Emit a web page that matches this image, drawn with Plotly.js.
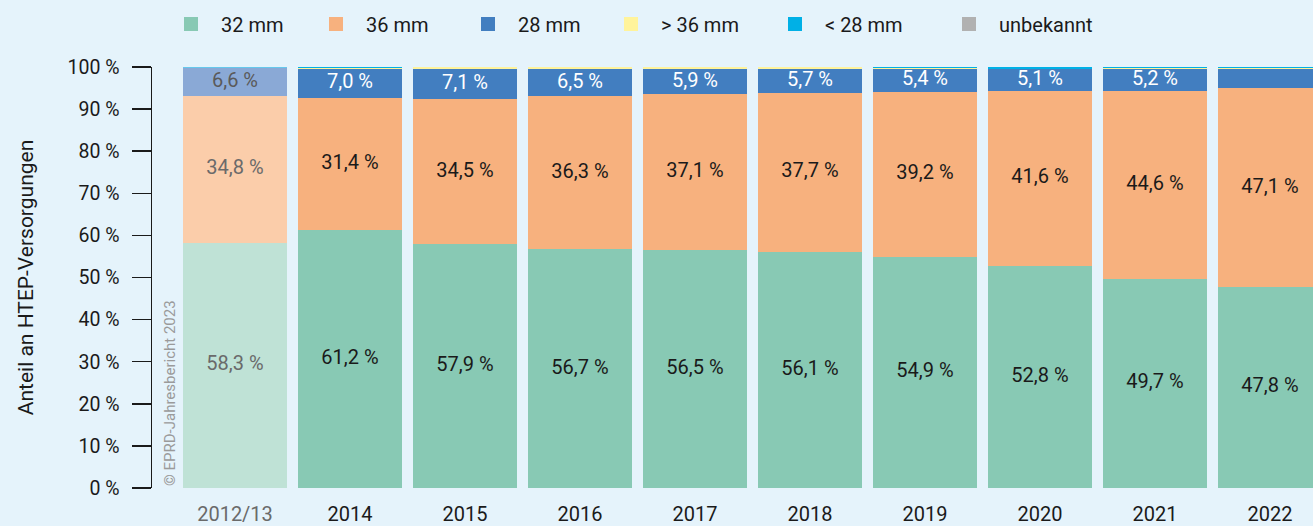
<!DOCTYPE html>
<html>
<head>
<meta charset="utf-8">
<script src="https://cdn.plot.ly/plotly-3.0.1.min.js"></script>
<style>html,body{margin:0;padding:0;background:#e5f3fb;}#chart{width:1313px;height:526px;}</style>
</head>
<body>
<div id="chart"></div>
<script>
// ---- data ----
var categories = ['2012/13','2014','2015','2016','2017','2018','2019','2020','2021','2022'];
var v32   = [58.3, 61.2, 57.9, 56.7, 56.5, 56.1, 54.9, 52.8, 49.7, 47.8];
var v36   = [34.8, 31.4, 34.5, 36.3, 37.1, 37.7, 39.2, 41.6, 44.6, 47.1];
var v28   = [6.6, 7.0, 7.1, 6.5, 5.9, 5.7, 5.4, 5.1, 5.2, 4.7];
var vGt36 = [0.0, 0.2, 0.4, 0.4, 0.4, 0.4, 0.3, 0.0, 0.2, 0.1];
var vLt28 = [0.3, 0.2, 0.1, 0.1, 0.1, 0.1, 0.2, 0.5, 0.3, 0.3];
var vUnk  = [0, 0, 0, 0, 0, 0, 0, 0, 0, 0];
var seriesNames = ['32 mm', '36 mm', '28 mm', '> 36 mm', '< 28 mm', 'unbekannt'];
var labelled28 = [true, true, true, true, true, true, true, true, true, false];

// ---- styles ----
var font = 'Roboto, "DejaVu Sans", sans-serif';
var dark = '#1a1a1a';
var base  = ['#88c9b4', '#f7b17e', '#427ec0', '#fff39b', '#00b0e6', '#b1b1b1'];
var faded = ['#bfe2d6', '#fbcdaa', '#8aa9d6', '#fff8c8', '#66c8ec', '#d0d0d0'];
var series = [v32, v36, v28, vGt36, vLt28, vUnk];

function colArr(i){ return categories.map(function(c, k){ return k === 0 ? faded[i] : base[i]; }); }
function fmt(v){ return v.toFixed(1).replace('.', ',') + ' %'; }

var traces = [];
series.forEach(function(vals, i){
  traces.push({
    type: 'bar', x: categories, y: vals, name: seriesNames[i],
    marker: {color: colArr(i), line: {width: 0}},
    showlegend: false, hoverinfo: 'skip'
  });
});
// legend-only entries
var legendX = [191, 336, 488, 631, 795, 969];
series.forEach(function(vals, i){
  traces.push({
    type: 'bar', x: [categories[0]], y: [null], name: seriesNames[i],
    marker: {color: base[i], line: {width: 2, color: base[i]}},
    legend: i === 0 ? 'legend' : 'legend' + (i + 1),
    showlegend: true, hoverinfo: 'skip'
  });
});

// value labels (centered in segments)
function labelTrace(vals, offsets, colorsFn, show){
  var xs = [], ys = [], ts = [], cs = [];
  categories.forEach(function(c, k){
    if (show && !show[k]) return;
    xs.push(c); ys.push(offsets[k] + vals[k] / 2); ts.push(fmt(vals[k])); cs.push(colorsFn(k));
  });
  return {type: 'scatter', mode: 'text', x: xs, y: ys, text: ts,
    textposition: 'middle center', textfont: {family: font, size: 20, color: cs},
    showlegend: false, hoverinfo: 'skip'};
}
var zeros = categories.map(function(){ return 0; });
var off36 = v32.slice();
var off28 = v32.map(function(v, k){ return v + v36[k]; });
traces.push(labelTrace(v32, zeros, function(k){ return k === 0 ? '#6a6a6a' : dark; }));
traces.push(labelTrace(v36, off36, function(k){ return k === 0 ? '#6a6a6a' : dark; }));
traces.push(labelTrace(v28, off28, function(k){ return k === 0 ? '#5a5a5a' : '#ffffff'; }, labelled28));

var tickText = categories.map(function(c, k){
  return k === 0 ? '<span style="color:#6a6a6a">' + c + '</span>' : c;
});

var layout = {
  width: 1313, height: 526,
  paper_bgcolor: '#e5f3fb', plot_bgcolor: '#e5f3fb',
  margin: {l: 152, r: 0, t: 67, b: 38, pad: 0},
  barmode: 'stack', bargap: 0.0957,
  font: {family: font, size: 20, color: dark},
  xaxis: {
    type: 'category', range: [-0.7217, 9.374],
    tickmode: 'array', tickvals: categories, ticktext: tickText,
    ticks: 'outside', ticklen: 8, tickcolor: 'rgba(0,0,0,0)',
    showline: false, showgrid: false, zeroline: false,
    tickfont: {family: font, size: 20, color: dark}
  },
  yaxis: {
    range: [0, 100], dtick: 10, ticksuffix: ' %',
    ticks: 'outside', ticklen: 19, tickwidth: 1.5, tickcolor: dark,
    ticklabelstandoff: 8,
    showline: true, linewidth: 1.5, linecolor: dark,
    showgrid: false, zeroline: false,
    tickfont: {family: font, size: 19.5, color: dark},
    title: {text: 'Anteil an HTEP-Versorgungen', standoff: 28, font: {family: font, size: 21, color: dark}}
  },
  annotations: [{
    text: '© EPRD-Jahresbericht 2023', textangle: -90,
    xref: 'paper', yref: 'paper', x: (170 - 152) / (1313 - 152), y: 0,
    xanchor: 'center', yanchor: 'bottom', showarrow: false,
    font: {family: font, size: 15, color: '#9a9a9a'}
  }]
};
legendX.forEach(function(px, i){
  var key = i === 0 ? 'legend' : 'legend' + (i + 1);
  layout[key] = {
    xref: 'container', yref: 'container', x: (px - 30) / 1313, y: 1 - 24 / 526,
    xanchor: 'left', yanchor: 'middle', orientation: 'h',
    bgcolor: 'rgba(0,0,0,0)', borderwidth: 0, itemwidth: 50,
    font: {family: font, size: 20, color: dark}, traceorder: 'normal'
  };
});

Plotly.newPlot('chart', traces, layout, {staticPlot: true, displayModeBar: false});
</script>
</body>
</html>
